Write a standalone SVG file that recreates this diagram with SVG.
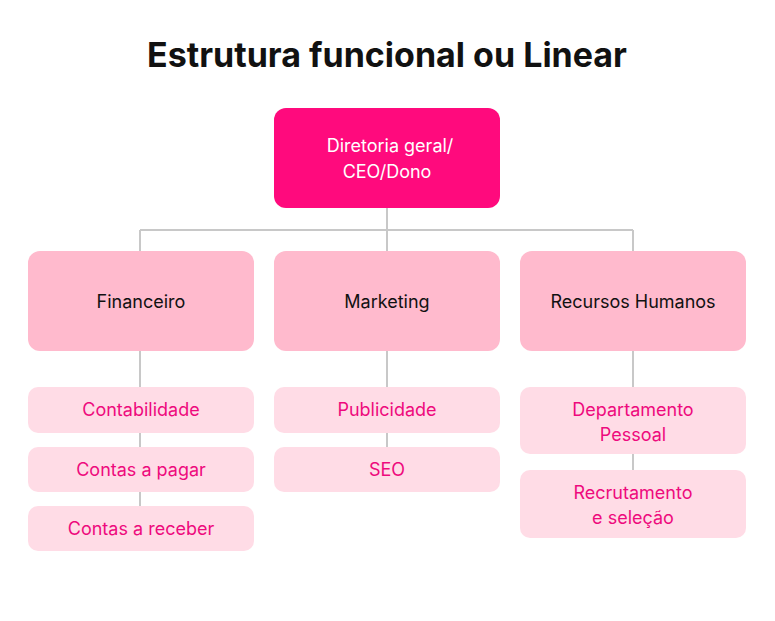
<svg xmlns="http://www.w3.org/2000/svg" width="775" height="621" viewBox="0 0 775 621">
<style>
text{font-family:"Inter","Liberation Sans",sans-serif;text-anchor:middle}
.t{font-size:34px;font-weight:bold;fill:#111}
.top{fill:#FF0A7D}
.tt{fill:#fff;font-size:18px}
.mid{fill:#FFBACD}
.mt{fill:#111;font-size:18px}
.sub{fill:#FFDCE6}
.st{fill:#EE0A7D;font-size:18px}
.c{stroke:#C8C8C8;stroke-width:2;fill:none}
</style>
<rect width="775" height="621" fill="#fff"/>
<text class="t" x="387" y="67">Estrutura funcional ou Linear</text>
<g id="connectors">
<path class="c" d="M387 208V251M140 230H633M140 230V251M633 230V251M140 351V506M387 351V447M633 351V470"/>
</g>
<g id="ceo"><rect class="top" x="274" y="108" width="226" height="100" rx="12"/><text class="tt" x="390" y="152">Diretoria geral/</text><text class="tt" x="387" y="178">CEO/Dono</text></g>
<g id="financeiro"><rect class="mid" x="28" y="251" width="226" height="100" rx="12"/><text class="mt" x="141" y="308">Financeiro</text></g>
<g id="marketing"><rect class="mid" x="274" y="251" width="226" height="100" rx="12"/><text class="mt" x="387" y="308">Marketing</text></g>
<g id="rh"><rect class="mid" x="520" y="251" width="226" height="100" rx="12"/><text class="mt" x="633" y="308">Recursos Humanos</text></g>
<g id="contabilidade"><rect class="sub" x="28" y="387" width="226" height="46" rx="10"/><text class="st" x="141" y="416">Contabilidade</text></g>
<g id="pagar"><rect class="sub" x="28" y="447" width="226" height="45" rx="10"/><text class="st" x="141" y="476">Contas a pagar</text></g>
<g id="receber"><rect class="sub" x="28" y="506" width="226" height="45" rx="10"/><text class="st" x="141" y="535">Contas a receber</text></g>
<g id="publicidade"><rect class="sub" x="274" y="387" width="226" height="46" rx="10"/><text class="st" x="387" y="416">Publicidade</text></g>
<g id="seo"><rect class="sub" x="274" y="447" width="226" height="45" rx="10"/><text class="st" x="387" y="476">SEO</text></g>
<g id="dp"><rect class="sub" x="520" y="387" width="226" height="67" rx="10"/><text class="st" x="633" y="416">Departamento</text><text class="st" x="633" y="441">Pessoal</text></g>
<g id="recrutamento"><rect class="sub" x="520" y="470" width="226" height="68" rx="10"/><text class="st" x="633" y="499">Recrutamento</text><text class="st" x="633" y="524">e seleção</text></g>
</svg>
